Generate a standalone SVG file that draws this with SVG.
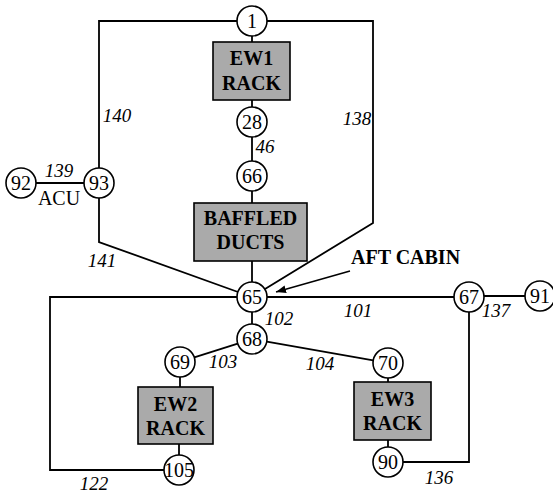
<svg xmlns="http://www.w3.org/2000/svg" width="553" height="496" viewBox="0 0 553 496">
<style>
.c{fill:#fff;stroke:#000;stroke-width:1.6}
.b{fill:#aaaaaa;stroke:#000;stroke-width:1.6}
.n{font-family:"Liberation Serif",serif;font-size:20px;text-anchor:middle;fill:#000}
.bt{font-family:"Liberation Serif",serif;font-size:20px;font-weight:bold;text-anchor:middle;fill:#000}
.e{font-family:"Liberation Serif",serif;font-size:19px;font-style:italic;text-anchor:middle;fill:#000}
#conn path{fill:none;stroke:#000;stroke-width:1.8}
</style>
<defs>
<marker id="ah" viewBox="0 0 10 10" refX="10" refY="5" markerWidth="10" markerHeight="8" markerUnits="userSpaceOnUse" orient="auto" preserveAspectRatio="none">
<path d="M0,0 L10,5 L0,10 z" fill="#000"/>
</marker>
</defs>
<rect width="553" height="496" fill="#fff"/>
<g id="conn">
<path d="M237,21 H99 V168"/>
<path d="M267,21 H373 V223 L265,289"/>
<path d="M99,198 V242 L238,292"/>
<path d="M36,183 H84"/>
<path d="M252,36 V42"/>
<path d="M252,100 V107"/>
<path d="M252,137 V161"/>
<path d="M252,191 V203"/>
<path d="M252,261 V282"/>
<path d="M237,297 H50 V470 H164"/>
<path d="M252,312 V324"/>
<path d="M267,297 H454"/>
<path d="M484,296 H525"/>
<path d="M469,312 V462 H403"/>
<path d="M237.7,343.6 L194.3,357.4"/>
<path d="M180,377 V387"/>
<path d="M179,444 V455"/>
<path d="M266.8,341.6 L373.2,360.4"/>
<path d="M388,378 V382"/>
<path d="M388,440 V447"/>
<path d="M350,271 L276,292" marker-end="url(#ah)" style="stroke-width:1.6"/>
</g>
<g id="n1"><circle class="c" cx="252" cy="21" r="15"/><text class="n" x="252" y="28">1</text></g>
<g id="ew1"><rect class="b" x="213" y="42" width="77" height="58"/><text class="bt" x="251.5" y="65">EW1</text><text class="bt" x="251.5" y="90">RACK</text></g>
<g id="n28"><circle class="c" cx="252" cy="122" r="15"/><text class="n" x="252" y="129">28</text></g>
<g id="n66"><circle class="c" cx="252" cy="176" r="15"/><text class="n" x="252" y="183">66</text></g>
<g id="baffled"><rect class="b" x="194" y="203" width="113" height="58"/><text class="bt" x="250.5" y="225">BAFFLED</text><text class="bt" x="250.5" y="249">DUCTS</text></g>
<g id="n92"><circle class="c" cx="21" cy="183" r="15"/><text class="n" x="21" y="190">92</text></g>
<g id="n93"><circle class="c" cx="99" cy="183" r="15"/><text class="n" x="99" y="190">93</text></g>
<g id="n65"><circle class="c" cx="252" cy="297" r="15"/><text class="n" x="252" y="304">65</text></g>
<g id="n68"><circle class="c" cx="252" cy="339" r="15"/><text class="n" x="252" y="346">68</text></g>
<g id="n69"><circle class="c" cx="180" cy="362" r="15"/><text class="n" x="180" y="369">69</text></g>
<g id="ew2"><rect class="b" x="138" y="387" width="75" height="57"/><text class="bt" x="175.5" y="411">EW2</text><text class="bt" x="175.5" y="435">RACK</text></g>
<g id="n105"><circle class="c" cx="179" cy="470" r="15"/><text class="n" x="179" y="477">105</text></g>
<g id="n70"><circle class="c" cx="388" cy="363" r="15"/><text class="n" x="388" y="370">70</text></g>
<g id="ew3"><rect class="b" x="354" y="382" width="77" height="58"/><text class="bt" x="392.5" y="406">EW3</text><text class="bt" x="392.5" y="430">RACK</text></g>
<g id="n90"><circle class="c" cx="388" cy="462" r="15"/><text class="n" x="388" y="469">90</text></g>
<g id="n67"><circle class="c" cx="469" cy="297" r="15"/><text class="n" x="469" y="304">67</text></g>
<g id="n91"><circle class="c" cx="540" cy="296" r="15"/><text class="n" x="540" y="303">91</text></g>
<g id="labels">
<text class="e" x="117" y="122">140</text>
<text class="e" x="59" y="177">139</text>
<text class="n" x="59" y="205">ACU</text>
<text class="e" x="102" y="267">141</text>
<text class="e" x="265" y="153">46</text>
<text class="e" x="357" y="125">138</text>
<text class="e" x="279" y="325">102</text>
<text class="e" x="358" y="317">101</text>
<text class="e" x="496" y="317">137</text>
<text class="e" x="223" y="368">103</text>
<text class="e" x="320" y="370">104</text>
<text class="e" x="94" y="490">122</text>
<text class="e" x="439" y="484">136</text>
<text class="bt" x="351" y="264" style="text-anchor:start">AFT CABIN</text>
</g>
</svg>
